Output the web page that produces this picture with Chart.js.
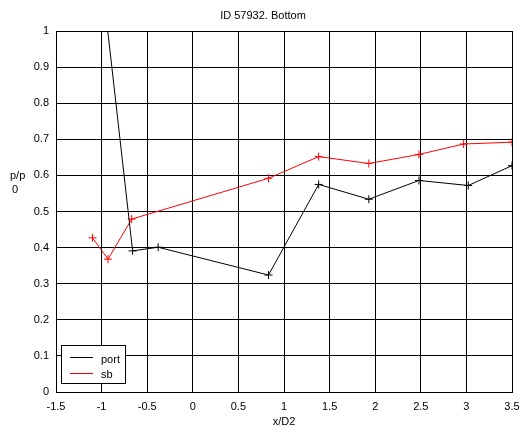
<!DOCTYPE html>
<html>
<head>
<meta charset="utf-8">
<script src="https://cdn.jsdelivr.net/npm/chart.js@4.4.1/dist/chart.umd.min.js"></script>
<style>html,body{margin:0;padding:0;background:#fff}</style>
</head>
<body>
<canvas id="chart" width="524" height="432"></canvas>
<script>
var portX = [-1.10, -0.66, -0.38, 0.83, 1.38, 1.93, 2.48, 3.02, 3.5];
var portY = [1.375, 0.391, 0.401, 0.324, 0.575, 0.534, 0.586, 0.572, 0.627];
var sbX = [-1.10, -0.93, -0.67, 0.83, 1.38, 1.93, 2.48, 2.97, 3.5];
var sbY = [0.427, 0.368, 0.479, 0.592, 0.652, 0.633, 0.658, 0.687, 0.692];

function pts(xs, ys){
    var out = [];
    for (var i = 0; i < xs.length; i++) out.push({x: xs[i], y: ys[i]});
    return out;
}

var FONT = 'Liberation Sans, Arial, sans-serif';

function fmt(v){ return String(Math.round(v * 10) / 10); }

var labels = {
    id: 'labels',
    afterDraw: function(chart){
        var ctx = chart.ctx;
        ctx.save();
        ctx.fillStyle = '#000';
        ctx.font = '11px ' + FONT;
        ctx.textBaseline = 'middle';
        ctx.textAlign = 'center';
        ctx.fillText('ID 57932. Bottom', 263, 16);
        ctx.fillText('x/D2', 284, 422);
        ctx.textAlign = 'left';
        ctx.fillText('p/p', 10, 176);
        ctx.fillText('0', 12, 190);

        // legend box
        ctx.fillStyle = '#fff';
        ctx.fillRect(61.5, 345.5, 64, 38);
        ctx.strokeStyle = '#000';
        ctx.lineWidth = 1;
        ctx.strokeRect(61.5, 345.5, 64, 38);
        ctx.beginPath();
        ctx.moveTo(70, 357.5); ctx.lineTo(93, 357.5);
        ctx.stroke();
        ctx.strokeStyle = '#ff0000';
        ctx.beginPath();
        ctx.moveTo(70, 373.5); ctx.lineTo(93, 373.5);
        ctx.stroke();
        ctx.fillStyle = '#000';
        ctx.fillText('port', 101, 360);
        ctx.fillText('sb', 101, 375);
        ctx.restore();
    }
};

new Chart(document.getElementById('chart'), {
    type: 'line',
    data: {
        datasets: [
            {
                label: 'port',
                data: pts(portX, portY),
                borderColor: '#000',
                backgroundColor: '#000',
                borderWidth: 1,
                pointStyle: 'cross',
                pointRadius: 4,
                pointBorderWidth: 1,
                fill: false,
                tension: 0
            },
            {
                label: 'sb',
                data: pts(sbX, sbY),
                borderColor: '#ff0000',
                backgroundColor: '#ff0000',
                borderWidth: 1,
                pointStyle: 'cross',
                pointRadius: 4,
                pointBorderWidth: 1,
                fill: false,
                tension: 0
            }
        ]
    },
    options: {
        responsive: false,
        animation: false,
        layout: {padding: {top: 31, right: 12, left: 0, bottom: 0}},
        plugins: {legend: {display: false}, title: {display: false}, tooltip: {enabled: false}},
        scales: {
            x: {
                type: 'linear',
                min: -1.5, max: 3.5,
                ticks: {stepSize: 0.5, color: '#000', font: {family: FONT, size: 11}, padding: 8, maxRotation: 0, callback: fmt},
                grid: {color: '#000', lineWidth: 1, drawTicks: false},
                border: {color: '#000', width: 1},
                afterFit: function(s){ s.height = 40; s.paddingLeft = 0; s.paddingRight = 0; }
            },
            y: {
                min: 0, max: 1,
                ticks: {stepSize: 0.1, color: '#000', font: {family: FONT, size: 11}, padding: 7, callback: fmt},
                grid: {color: '#000', lineWidth: 1, drawTicks: false},
                border: {color: '#000', width: 1},
                afterFit: function(s){ s.width = 56; s.paddingTop = 0; s.paddingBottom = 0; }
            }
        }
    },
    plugins: [labels]
});
</script>
</body>
</html>
